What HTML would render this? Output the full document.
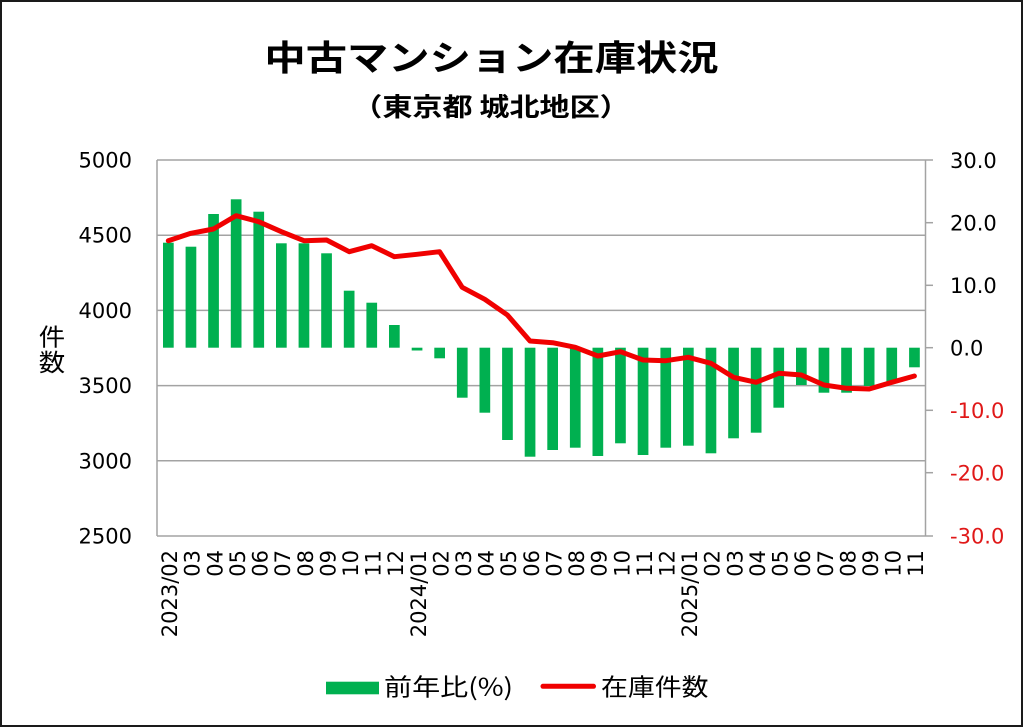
<!DOCTYPE html>
<html><head><meta charset="utf-8"><style>
html,body{margin:0;padding:0;background:#fff;}
svg{display:block;}
</style></head><body>
<svg width="1024" height="728" viewBox="0 0 1024 728" xmlns="http://www.w3.org/2000/svg">
<rect x="1" y="1" width="1021" height="725" fill="#fff" stroke="#1a1a1a" stroke-width="2"/>
<g font-family="'Noto Sans CJK JP','Liberation Sans',sans-serif" fill="#000">
<text transform="translate(491.5,70.5) scale(1.18,1)" text-anchor="middle" font-size="35" font-weight="bold" letter-spacing="0">中古マンション在庫状況</text>
<text transform="translate(491,116) scale(1.18,1)" text-anchor="middle" font-size="25.5" font-weight="bold">（東京都 城北地区）</text>
<text transform="translate(52,345.5) scale(1.1,1)" text-anchor="middle" font-size="24">件</text>
<text transform="translate(52,371) scale(1.1,1)" text-anchor="middle" font-size="24">数</text>
</g>
<g stroke="#a3a3a3" stroke-width="1.5" fill="none">
<line x1="157" y1="160" x2="933" y2="160"/>
<line x1="157" y1="235.2" x2="925.5" y2="235.2"/>
<line x1="157" y1="310.4" x2="925.5" y2="310.4"/>
<line x1="157" y1="385.6" x2="925.5" y2="385.6"/>
<line x1="157" y1="460.8" x2="925.5" y2="460.8"/>
<line x1="157" y1="536" x2="933" y2="536"/>
<line x1="157" y1="160" x2="157" y2="536"/>
<line x1="925.5" y1="160" x2="925.5" y2="536"/>
<line x1="925.5" y1="222.7" x2="933" y2="222.7"/>
<line x1="925.5" y1="285.3" x2="933" y2="285.3"/>
<line x1="925.5" y1="347.7" x2="933" y2="347.7"/>
<line x1="925.5" y1="410.3" x2="933" y2="410.3"/>
<line x1="925.5" y1="472.7" x2="933" y2="472.7"/>
</g>
<g fill="#00b050">
<rect x="163.0" y="242.7" width="10.7" height="105.0"/>
<rect x="185.6" y="246.7" width="10.7" height="101.0"/>
<rect x="208.2" y="214.0" width="10.7" height="133.7"/>
<rect x="230.8" y="199.3" width="10.7" height="148.4"/>
<rect x="253.4" y="211.7" width="10.7" height="136.0"/>
<rect x="276.0" y="243.3" width="10.7" height="104.4"/>
<rect x="298.6" y="243.3" width="10.7" height="104.4"/>
<rect x="321.2" y="253.3" width="10.7" height="94.4"/>
<rect x="343.8" y="290.7" width="10.7" height="57.0"/>
<rect x="366.4" y="302.7" width="10.7" height="45.0"/>
<rect x="389.0" y="325.0" width="10.7" height="22.7"/>
<rect x="411.7" y="347.7" width="10.7" height="2.8"/>
<rect x="434.3" y="347.7" width="10.7" height="10.6"/>
<rect x="456.9" y="347.7" width="10.7" height="50.0"/>
<rect x="479.5" y="347.7" width="10.7" height="65.0"/>
<rect x="502.1" y="347.7" width="10.7" height="92.3"/>
<rect x="524.7" y="347.7" width="10.7" height="109.0"/>
<rect x="547.3" y="347.7" width="10.7" height="102.3"/>
<rect x="569.9" y="347.7" width="10.7" height="100.0"/>
<rect x="592.5" y="347.7" width="10.7" height="108.3"/>
<rect x="615.1" y="347.7" width="10.7" height="95.6"/>
<rect x="637.7" y="347.7" width="10.7" height="107.3"/>
<rect x="660.4" y="347.7" width="10.7" height="100.0"/>
<rect x="683.0" y="347.7" width="10.7" height="98.0"/>
<rect x="705.6" y="347.7" width="10.7" height="105.6"/>
<rect x="728.2" y="347.7" width="10.7" height="90.6"/>
<rect x="750.8" y="347.7" width="10.7" height="85.0"/>
<rect x="773.4" y="347.7" width="10.7" height="60.0"/>
<rect x="796.0" y="347.7" width="10.7" height="37.3"/>
<rect x="818.6" y="347.7" width="10.7" height="45.0"/>
<rect x="841.2" y="347.7" width="10.7" height="45.0"/>
<rect x="863.8" y="347.7" width="10.7" height="38.3"/>
<rect x="886.4" y="347.7" width="10.7" height="35.6"/>
<rect x="909.1" y="347.7" width="10.7" height="19.6"/>
</g>
<polyline fill="none" stroke="#f00000" stroke-width="5" stroke-linejoin="round" stroke-linecap="round" points="168.3,240.7 190.9,233.3 213.5,229 236.1,215.7 258.7,221.7 281.4,231.7 304,240.7 326.6,240 349.2,251.7 371.8,245.7 394.4,256.7 417,254.3 439.6,251.7 462.2,287.3 484.8,299.3 507.4,315 530,341 552.7,342.7 575.3,347.3 597.9,356 620.5,351.7 643.1,360 665.7,360.7 688.3,357.3 710.9,363.3 733.5,377.3 756.1,382.3 778.8,373.3 801.4,375 824,385 846.6,388.3 869.2,389 891.8,382.3 914.4,376"/>
<g font-family="'DejaVu Sans','Liberation Sans',sans-serif" font-size="21" fill="#000">
<g text-anchor="end">
<text x="132" y="167.5">5000</text>
<text x="132" y="242.7">4500</text>
<text x="132" y="317.9">4000</text>
<text x="132" y="393.1">3500</text>
<text x="132" y="468.3">3000</text>
<text x="132" y="543.5">2500</text>
</g>
<text x="950" y="167.8">30.0</text>
<text x="950" y="230.4">20.0</text>
<text x="950" y="293">10.0</text>
<text x="950" y="355.4">0.0</text>
<g fill="#e01818">
<text x="950" y="418">-10.0</text>
<text x="950" y="480.4">-20.0</text>
<text x="950" y="543.4">-30.0</text>
</g>
<g text-anchor="end">
<text transform="translate(177.1,550) rotate(-90)">2023/02</text>
<text transform="translate(199.7,550) rotate(-90)">03</text>
<text transform="translate(222.3,550) rotate(-90)">04</text>
<text transform="translate(244.9,550) rotate(-90)">05</text>
<text transform="translate(267.5,550) rotate(-90)">06</text>
<text transform="translate(290.2,550) rotate(-90)">07</text>
<text transform="translate(312.8,550) rotate(-90)">08</text>
<text transform="translate(335.4,550) rotate(-90)">09</text>
<text transform="translate(358,550) rotate(-90)">10</text>
<text transform="translate(380.6,550) rotate(-90)">11</text>
<text transform="translate(403.2,550) rotate(-90)">12</text>
<text transform="translate(425.8,550) rotate(-90)">2024/01</text>
<text transform="translate(448.4,550) rotate(-90)">02</text>
<text transform="translate(471,550) rotate(-90)">03</text>
<text transform="translate(493.6,550) rotate(-90)">04</text>
<text transform="translate(516.2,550) rotate(-90)">05</text>
<text transform="translate(538.8,550) rotate(-90)">06</text>
<text transform="translate(561.5,550) rotate(-90)">07</text>
<text transform="translate(584.1,550) rotate(-90)">08</text>
<text transform="translate(606.7,550) rotate(-90)">09</text>
<text transform="translate(629.3,550) rotate(-90)">10</text>
<text transform="translate(651.9,550) rotate(-90)">11</text>
<text transform="translate(674.5,550) rotate(-90)">12</text>
<text transform="translate(697.1,550) rotate(-90)">2025/01</text>
<text transform="translate(719.7,550) rotate(-90)">02</text>
<text transform="translate(742.3,550) rotate(-90)">03</text>
<text transform="translate(764.9,550) rotate(-90)">04</text>
<text transform="translate(787.6,550) rotate(-90)">05</text>
<text transform="translate(810.2,550) rotate(-90)">06</text>
<text transform="translate(832.8,550) rotate(-90)">07</text>
<text transform="translate(855.4,550) rotate(-90)">08</text>
<text transform="translate(878,550) rotate(-90)">09</text>
<text transform="translate(900.6,550) rotate(-90)">10</text>
<text transform="translate(923.2,550) rotate(-90)">11</text>
</g>
</g>
<rect x="326" y="681.7" width="53" height="12.6" fill="#00b050"/>
<line x1="543" y1="686.3" x2="593.5" y2="686.3" stroke="#f00000" stroke-width="5" stroke-linecap="round"/>
<g font-family="'Noto Sans CJK JP','Liberation Sans',sans-serif" font-size="24" fill="#000">
<text transform="translate(384,695.5) scale(1.17,1)">前年比(%)</text>
<text transform="translate(601,695.5) scale(1.12,1)">在庫件数</text>
</g>
</svg>
</body></html>
